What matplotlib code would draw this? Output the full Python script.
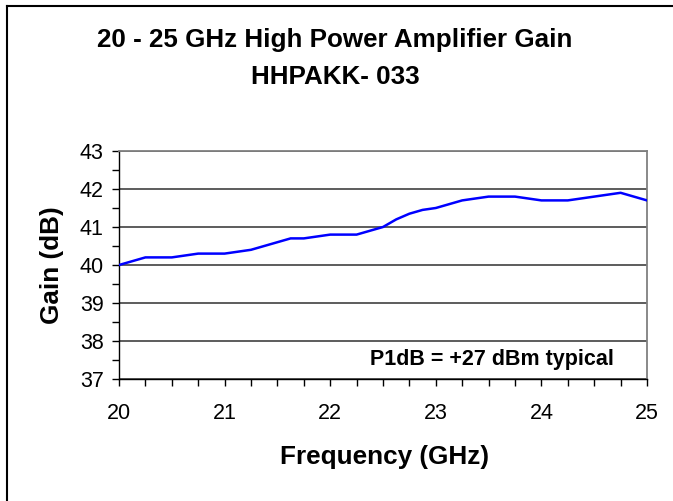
import numpy as np
import matplotlib
matplotlib.use("Agg")
from matplotlib import pyplot as plt
from matplotlib.lines import Line2D
from matplotlib.ticker import MultipleLocator

plt.rcParams['font.family'] = ['Liberation Sans', 'DejaVu Sans']

# Dados
freq = [20.0, 20.25, 20.5, 20.75, 21.0, 21.25, 21.5, 21.625, 21.75, 22.0,
        22.25, 22.5, 22.625, 22.75, 22.875, 23.0, 23.25, 23.5, 23.75, 24.0,
        24.25, 24.5, 24.75, 25.0]
gain = [40.0, 40.2, 40.2, 40.3, 40.3, 40.4, 40.6, 40.7, 40.7, 40.8,
        40.8, 41.0, 41.2, 41.35, 41.45, 41.5, 41.7, 41.8, 41.8, 41.7,
        41.7, 41.8, 41.9, 41.7]
yticks = [37, 38, 39, 40, 41, 42, 43]
xticks = [20, 21, 22, 23, 24, 25]

fig = plt.figure(figsize=(6.73, 5.01), dpi=100)
ax = fig.add_axes([119 / 673, 1 - 379 / 501, 528 / 673, 228 / 501])

ax.plot(freq, gain, color="#0000ff", lw=1.8, zorder=3)

ax.set_xlim(20, 25)
ax.set_ylim(37, 43)
ax.set_xticks(xticks)
ax.set_yticks(yticks)
ax.xaxis.set_minor_locator(MultipleLocator(0.25))
ax.yaxis.set_minor_locator(MultipleLocator(0.5))
ax.tick_params(which="both", direction="out", length=5, width=1, color="black")
ax.tick_params(axis="x", which="major", labelsize=15.5, pad=12)
ax.tick_params(axis="y", which="major", labelsize=15.5, pad=6)

ax.grid(axis="y", which="major", color="#303030", lw=1.1)
ax.set_axisbelow(True)
for s in ("top", "right"):
    ax.spines[s].set_color("#808080")
    ax.spines[s].set_linewidth(1.3)
for s in ("left", "bottom"):
    ax.spines[s].set_color("black")
    ax.spines[s].set_linewidth(1)

ax.text(0.938, 0.085, "P1dB = +27 dBm typical", transform=ax.transAxes,
        ha="right", va="center", fontsize=15.5, fontweight="bold")

fig.text(52.5 / 673, 1 - 265 / 501, "Gain (dB)", rotation=90, ha="center",
         va="center", fontsize=18.8, fontweight="bold")
fig.text(385 / 673, 1 - 457 / 501, "Frequency (GHz)", ha="center",
         va="center", fontsize=18.8, fontweight="bold")
fig.text(335 / 673, 1 - 40 / 501, "20 - 25 GHz High Power Amplifier Gain",
         ha="center", va="center", fontsize=18.7, fontweight="bold")
fig.text(335 / 673, 1 - 77 / 501, "HHPAKK- 033",
         ha="center", va="center", fontsize=18.7, fontweight="bold")

# Moldura (apenas topo e esquerda visíveis)
fig.add_artist(Line2D([6.5 / 673, 6.5 / 673], [0, 1 - 5.5 / 501],
                      transform=fig.transFigure, color="black", lw=1.5))
fig.add_artist(Line2D([6.5 / 673, 1], [1 - 5.5 / 501, 1 - 5.5 / 501],
                      transform=fig.transFigure, color="black", lw=1.5))

fig.savefig("out.png", dpi=100)
